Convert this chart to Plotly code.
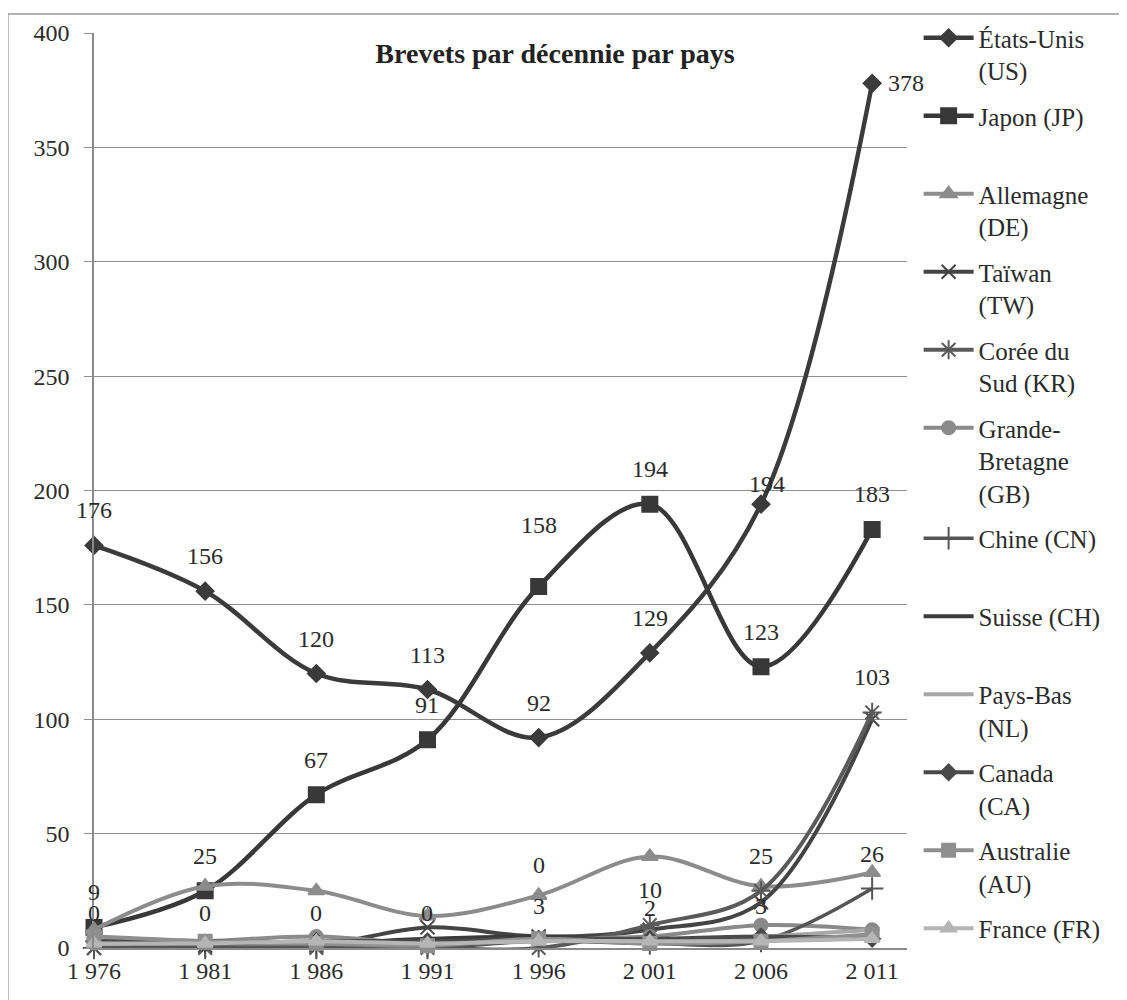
import plotly.graph_objects as go

years = ["1 976", "1 981", "1 986", "1 991", "1 996", "2 001", "2 006", "2 011"]

us = [176, 156, 120, 113, 92, 129, 194, 378]
jp = [9, 25, 67, 91, 158, 194, 123, 183]
de = [8, 27, 25, 14, 23, 40, 27, 33]
tw = [0, 1, 1, 9, 5, 8, 20, 100]
kr = [0, 0, 0, 0, 0, 10, 25, 103]
gb = [2, 3, 5, 2, 4, 5, 10, 8]
cn = [0, 0, 0, 0, 3, 2, 3, 26]
ch = [3, 3, 2, 4, 5, 3, 4, 5]
nl = [2, 2, 2, 2, 3, 3, 5, 8]
ca = [3, 2, 3, 3, 4, 4, 5, 4]
au = [5, 3, 2, 1, 4, 2, 3, 6]
fr = [2, 2, 3, 2, 3, 3, 3, 4]

names = ["États-Unis<br>(US)", "Japon (JP)<br> ", "Allemagne<br>(DE)", "Taïwan<br>(TW)",
         "Corée du<br>Sud (KR)", "Grande-<br>Bretagne<br>(GB)", "Chine (CN)<br> ",
         "Suisse (CH)<br> ", "Pays-Bas<br>(NL)", "Canada<br>(CA)", "Australie<br>(AU)",
         "France (FR)"]

FONT = "Liberation Serif"
TXT = "#2b2b2b"

series = [
    (us, "#3b3b3b", "diamond", 13, 4.5),
    (jp, "#383838", "square", 15, 4.5),
    (de, "#8c8c8c", "triangle-up", 14, 4),
    (tw, "#444444", "x-thin-open", 14, 4),
    (kr, "#5a5a5a", "asterisk-open", 16, 4),
    (gb, "#8a8a8a", "circle", 13, 4),
    (cn, "#555555", "cross-thin-open", 16, 3.5),
    (ch, "#3a3a3a", None, 0, 4),
    (nl, "#a8a8a8", None, 0, 4),
    (ca, "#4a4a4a", "diamond", 12, 4),
    (au, "#8f8f8f", "square", 13, 4),
    (fr, "#b5b5b5", "triangle-up", 13, 4),
]

# data labels: series index -> first point index that is labelled
label_series = {0: 0, 1: 0, 4: 0, 6: 4}
# label offsets (px) that differ from the default "above the point"
label_shift = {(0, 7): (34, 0), (0, 6): (6, 20), (1, 4): (0, 62), (4, 4): (0, 83)}

fig = go.Figure()
for i, (vals, col, sym, size, lw) in enumerate(series):
    kw = dict(x=years, y=vals, name=names[i], legendgroup=f"g{i}", cliponaxis=False,
              line=dict(color=col, width=lw, shape="spline", smoothing=1))
    if sym:
        kw["mode"] = "lines+markers"
        kw["marker"] = dict(symbol=sym, size=size, color=col,
                            line=dict(color=col, width=2))
    else:
        kw["mode"] = "lines"
    fig.add_trace(go.Scatter(**kw))

for i, start in label_series.items():
    vals = series[i][0]
    for j in range(start, len(vals)):
        xs, ys = label_shift.get((i, j), (0, 35))
        fig.add_annotation(x=years[j], y=vals[j], text=str(vals[j]), showarrow=False,
                           xshift=xs, yshift=ys,
                           font=dict(family=FONT, size=24, color=TXT))

# outer frame (top and left edges visible in the reference)
fig.add_shape(type="line", xref="paper", yref="paper", x0=-0.106, x1=1.3, y0=1.0207, y1=1.0207,
              line=dict(color="#9a9a9a", width=1.5))
fig.add_shape(type="line", xref="paper", yref="paper", x0=-0.106, x1=-0.106, y0=-0.1, y1=1.0207,
              line=dict(color="#9a9a9a", width=1.5))

fig.update_layout(
    width=1127, height=1000,
    margin=dict(l=86, r=220, t=23, b=60),
    paper_bgcolor="white", plot_bgcolor="white",
    font=dict(family=FONT, size=24, color=TXT),
    title=dict(text="<b>Brevets par décennie par pays</b>", x=0.4854, xanchor="center",
               y=0.955, yanchor="middle", font=dict(family=FONT, size=28, color="#222")),
    showlegend=True,
    legend=dict(x=0.808, xref="container", xanchor="left", y=0.993, yref="container",
                yanchor="top", valign="top", tracegroupgap=10, itemwidth=50,
                maxheight=1000,
                font=dict(family=FONT, size=25, color=TXT), bgcolor="rgba(0,0,0,0)"),
    xaxis=dict(type="category", range=[0, 7.31], showgrid=False, showline=True,
               linecolor="#8a8a8a", linewidth=1.5, ticks="", zeroline=False,
               tickfont=dict(family=FONT, size=24, color=TXT)),
    yaxis=dict(range=[0, 400], tickvals=[0, 50, 100, 150, 200, 250, 300, 350, 400],
               showgrid=True, gridcolor="#8f8f8f", gridwidth=1.2, showline=True,
               linecolor="#8a8a8a", linewidth=1.5, ticks="outside", ticklen=8,
               tickcolor="#8f8f8f", zeroline=False, ticklabelstandoff=10,
               tickfont=dict(family=FONT, size=24, color=TXT)),
)

fig.write_html("out.html")
